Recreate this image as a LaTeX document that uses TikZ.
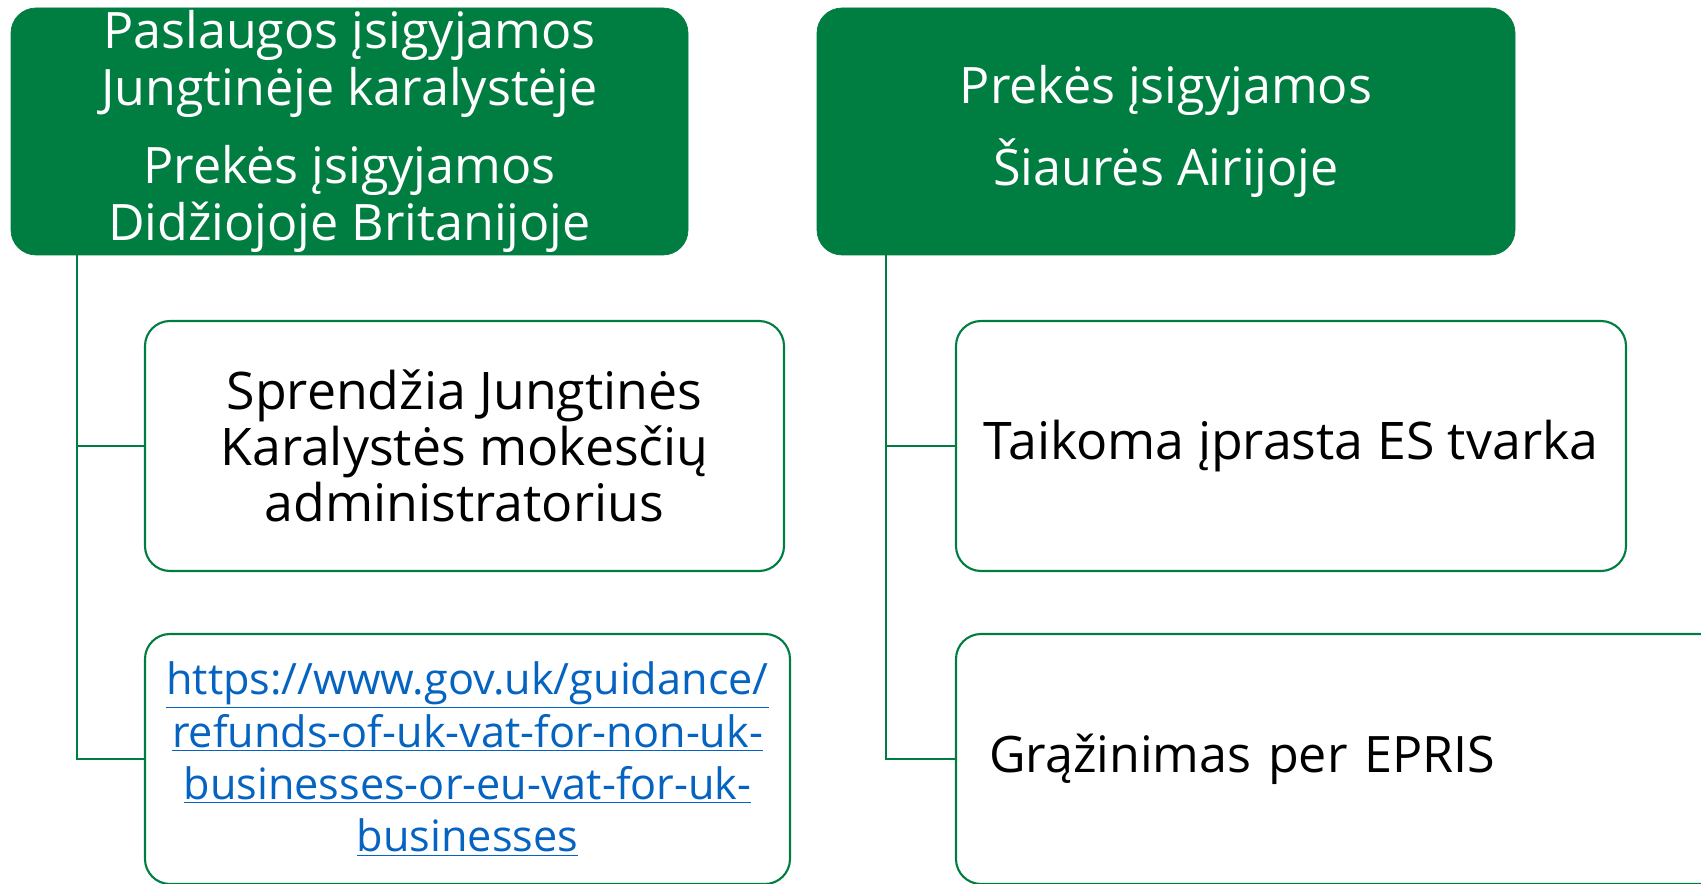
\documentclass[tikz,border=0pt]{standalone}
\usepackage{fontspec}
\setmainfont{Open Sans}
\usepackage{xcolor}
\definecolor{vmiGreen}{HTML}{007D40}
\definecolor{vmiLink}{HTML}{0563C1}
\usepackage{tikz}
\usetikzlibrary{positioning}
\tikzset{
    headbox/.style={
        draw=vmiGreen,
        fill=vmiGreen,
        rectangle,
        rounded corners=5mm,
        align=center,
        text=white,
        minimum height={247*0.02cm},
        inner sep=0pt,
        font=\fontsize{28.6}{32.5}\selectfont
    },
    itembox/.style={
        draw=vmiGreen,
        fill=white,
        rectangle,
        rounded corners=5mm,
        line width=1.2pt,
        align=center,
        minimum height={250*0.02cm},
        inner sep=0pt,
        font=\fontsize{29.5}{32}\selectfont
    },
    branch/.style={
        draw=vmiGreen,
        line width=1.1pt
    }
}

\begin{document}
\begin{tikzpicture}[x=0.02cm,y=-0.02cm]
    \useasboundingbox (0,0) rectangle (1701,884);
    % Headers
    \node[headbox, minimum width={677*0.02cm}] (uk) at (349.5,131.5)
        {Paslaugos įsigyjamos\\Jungtinėje karalystėje\\[0.42cm]Prekės įsigyjamos\\Didžiojoje Britanijoje};
    \node[headbox, minimum width={698*0.02cm}] (ni) at (1166,131.5)
        {Prekės įsigyjamos\\[0.42cm]Šiaurės Airijoje};

    % Left column
    \node[itembox, minimum width={639*0.02cm}] (hmrc) at (464.5,446)
        {Sprendžia Jungtinės\\Karalystės mokesčių\\administratorius};
    \node[itembox, minimum width={645*0.02cm}, text=vmiLink,
        font=\fontsize{24.6}{29.8}\selectfont] (link) at (467.5,759)
        {\underline{https://www.gov.uk/guidance/}\\\underline{refunds-of-uk-vat-for-non-uk-}\\\underline{businesses-or-eu-vat-for-uk-}\\\underline{businesses}};

    % Right column
    \node[itembox, minimum width={670*0.02cm}] (eu) at (1291,446)
        {Taikoma įprasta ES tvarka};
    \node[itembox, minimum width={804*0.02cm}, align=left, text width={738*0.02cm},
        font=\fontsize{28.6}{32}\selectfont] (epris) at (1358,759)
        {Grąžinimas per EPRIS};

    % Connectors
    \coordinate (ukroot) at (77,255);
    \coordinate (niroot) at (886,255);
    \draw[branch] (ukroot) |- (hmrc.west);
    \draw[branch] (ukroot) |- (link.west);
    \draw[branch] (niroot) |- (eu.west);
    \draw[branch] (niroot) |- (epris.west);
\end{tikzpicture}
\end{document}
